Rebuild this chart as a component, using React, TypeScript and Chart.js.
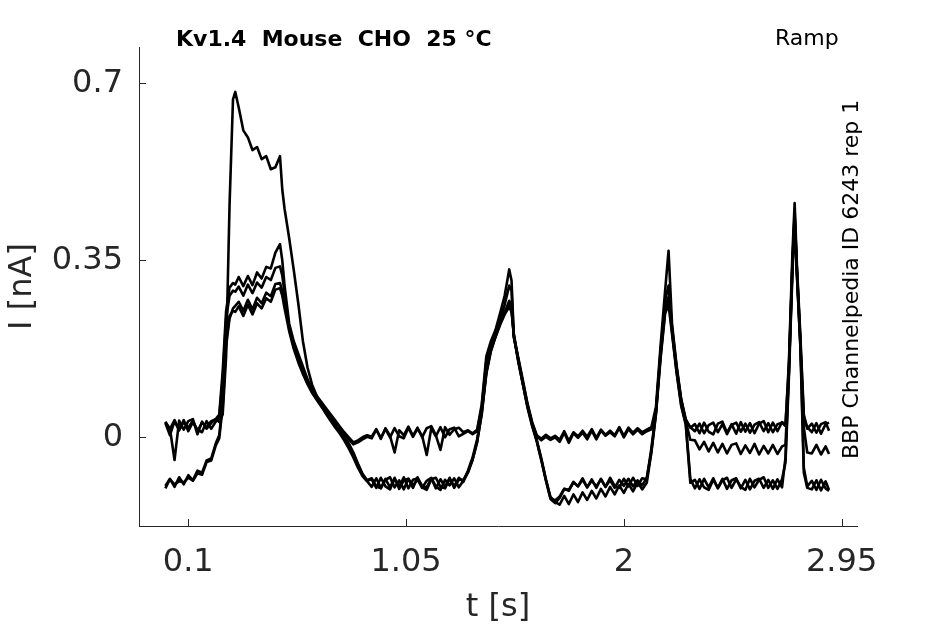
import { useEffect, useRef } from 'react';
import { Chart, registerables } from 'chart.js';

Chart.register(...registerables);

// sample times [s], shared by every sweep
const TIME = [
   0, 0.02, 0.04, 0.06, 0.08, 0.1, 0.12, 0.14, 0.16, 0.18, 0.2, 0.22,
   0.235, 0.25, 0.265, 0.28, 0.295, 0.305,
   0.32, 0.34, 0.36, 0.38, 0.4, 0.42, 0.44, 0.46, 0.48, 0.5, 0.51,
   0.52, 0.54, 0.56, 0.58, 0.6, 0.62, 0.64, 0.66, 0.68, 0.7, 0.72, 0.74, 0.76, 0.78, 0.8, 0.82, 0.84, 0.86, 0.88,
   0.9, 0.92, 0.94, 0.96, 0.98, 1, 1.02, 1.04, 1.06, 1.08, 1.1, 1.12, 1.14, 1.16, 1.18, 1.2, 1.22, 1.24, 1.26, 1.28,
   1.3, 1.32, 1.34, 1.36, 1.38, 1.4, 1.42, 1.44, 1.46, 1.48, 1.5, 1.51,
   1.52, 1.54, 1.56, 1.58, 1.6, 1.62, 1.64, 1.66, 1.68, 1.7,
   1.72, 1.74, 1.76, 1.78, 1.8, 1.82, 1.84, 1.86, 1.88, 1.9, 1.92, 1.94, 1.96, 1.98, 2, 2.02, 2.04, 2.06, 2.08,
   2.1, 2.12, 2.14, 2.16, 2.18, 2.195, 2.21, 2.23, 2.25, 2.27, 2.29,
   2.31, 2.33, 2.35, 2.37, 2.39, 2.41, 2.43, 2.45, 2.47, 2.49, 2.51, 2.53, 2.55, 2.57, 2.59, 2.61, 2.63, 2.65, 2.67, 2.69,
   2.705, 2.72, 2.735, 2.745, 2.755, 2.77, 2.785, 2.8,
   2.82, 2.84, 2.86, 2.88, 2.895,
];

// current [nA], one array per sweep
const SWEEP_1 = [
   0.031, 0.016, 0.034, 0.014, 0.03, 0.019, 0.033, 0.012, 0.029, 0.02, 0.032, 0.036,
   0.03, 0.045, 0.16, 0.46, 0.668, 0.683,
   0.652, 0.607, 0.593, 0.568, 0.574, 0.55, 0.556, 0.53, 0.534, 0.556, 0.49,
   0.452, 0.394, 0.331, 0.264, 0.19, 0.138, 0.104, 0.082, 0.064, 0.047, 0.033, 0.02, 0.008, -0.006, -0.022, -0.04, -0.06, -0.077, -0.087,
   -0.098, -0.081, -0.1, -0.084, -0.079, -0.099, -0.085, -0.103, -0.082, -0.096, -0.083, -0.1, -0.086, -0.08, -0.097, -0.104, -0.084, -0.095, -0.081, -0.099,
   -0.086, -0.07, -0.045, -0.008, 0.045, 0.125, 0.17, 0.198, 0.222, 0.243, 0.258, 0.248,
   0.205, 0.152, 0.106, 0.062, 0.026, -0.006, -0.042, -0.083, -0.12, -0.125,
   -0.117, -0.102, -0.104, -0.088, -0.097, -0.084, -0.099, -0.086, -0.097, -0.083, -0.098, -0.085, -0.1, -0.084, -0.096, -0.082, -0.097, -0.085, -0.095,
   -0.08, -0.028, 0.048, 0.16, 0.25, 0.278, 0.214, 0.136, 0.072, 0.033, 0.02,
   0.012, 0.027, 0.008, 0.024, 0.029, 0.01, 0.026, 0.006, 0.024, 0.029, 0.011, 0.027, 0.009, 0.025, 0.03, 0.012, 0.028, 0.01, 0.026, 0.029,
   0.022, 0.15, 0.36, 0.463, 0.34, 0.2, 0.045, 0.017,
   0.027, 0.009, 0.026, 0.03, 0.013,
];

const SWEEP_2 = [
   0.029, 0.017, -0.045, 0.033, 0.015, 0.032, 0.036, 0.006, 0.031, 0.017, 0.028, 0.036,
   0.045, 0.13, 0.25, 0.296, 0.305, 0.302,
   0.317, 0.299, 0.319, 0.301, 0.326, 0.314, 0.337, 0.334, 0.365, 0.382, 0.35,
   0.3, 0.225, 0.19, 0.165, 0.14, 0.115, 0.097, 0.082, 0.07, 0.058, 0.046, 0.034, 0.022, 0.01, 0, -0.01, -0.006, 0, 0.004,
   0.001, 0.016, -0.003, 0.018, 0.003, -0.03, 0.014, 0.004, 0.021, 0.003, 0.019, 0, 0.018, 0.022, 0.004, -0.025, 0.02, 0.005, 0.016, 0.019,
   0.01, 0.014, 0.008, 0.015, 0.065, 0.16, 0.19, 0.212, 0.245, 0.28, 0.332, 0.31,
   0.2, 0.156, 0.112, 0.066, 0.03, 0.004, -0.003, 0.005, -0.002, 0.003,
   -0.005, 0.012, -0.007, 0.01, 0.002, 0.013, 0.001, 0.016, -0.001, 0.015, 0.005, 0.013, 0.004, 0.02, 0.003, 0.019, 0.009, 0.018, 0.01,
   0.015, 0.02, 0.06, 0.18, 0.29, 0.369, 0.225, 0.142, 0.076, 0.036, 0.019,
   0.026, 0.008, 0.029, 0.011, 0.006, 0.027, 0.031, 0.009, 0.026, 0.007, 0.03, 0.011, 0.028, 0.008, 0.027, 0.032, 0.01, 0.029, 0.012, 0.03,
   0.025, 0.14, 0.34, 0.44, 0.33, 0.19, 0.04, 0.02,
   0.01, 0.028, 0.007, 0.026, 0.029,
];

const SWEEP_3 = [
   0.028, 0.004, 0.032, 0.014, 0.034, 0.012, 0.03, 0.015, 0.01, 0.032, 0.017, 0.031,
   0.04, 0.115, 0.235, 0.28, 0.29, 0.288,
   0.298, 0.28, 0.302, 0.285, 0.306, 0.296, 0.317, 0.311, 0.335, 0.338, 0.32,
   0.285, 0.215, 0.18, 0.155, 0.13, 0.11, 0.093, 0.078, 0.066, 0.053, 0.041, 0.03, 0.018, 0.007, -0.004, -0.014, -0.01, -0.004, 0.001,
   -0.002, 0.015, -0.001, 0.016, 0, 0.018, 0.002, -0.002, 0.019, 0.001, 0.017, 0.003, -0.035, 0.018, 0.002, 0.02, 0, 0.016, 0.019, 0.002,
   0.007, 0.012, 0.006, 0.012, 0.06, 0.15, 0.185, 0.205, 0.232, 0.262, 0.3, 0.29,
   0.198, 0.154, 0.108, 0.064, 0.028, 0.002, -0.006, 0.001, -0.005, 0,
   -0.009, 0.009, -0.011, 0.008, -0.001, 0.009, -0.004, 0.013, -0.004, 0.013, 0.003, 0.01, 0.002, 0.018, 0, 0.016, 0.006, 0.015, 0.006,
   0.012, 0.016, 0.05, 0.17, 0.27, 0.3, 0.218, 0.138, 0.074, 0.032, -0.005,
   -0.006, -0.024, -0.009, -0.028, -0.011, -0.03, -0.013, -0.032, -0.015, -0.012, -0.033, -0.016, -0.031, -0.013, -0.034, -0.017, -0.032, -0.015, -0.033, -0.018,
   -0.015, 0.13, 0.33, 0.43, 0.32, 0.18, 0.02, -0.03,
   -0.032, -0.015, -0.034, -0.018, -0.033,
];

const SWEEP_4 = [
   -0.096, -0.082, -0.098, -0.079, -0.093, -0.075, -0.085, -0.066, -0.07, -0.046, -0.042, -0.012,
   0.004, 0.07, 0.19, 0.24, 0.25, 0.248,
   0.259, 0.24, 0.262, 0.243, 0.265, 0.255, 0.275, 0.268, 0.292, 0.295, 0.28,
   0.255, 0.21, 0.175, 0.148, 0.125, 0.105, 0.088, 0.074, 0.061, 0.048, 0.036, 0.024, 0.012, 0, -0.014, -0.032, -0.055, -0.074, -0.086,
   -0.083, -0.1, -0.08, -0.097, -0.103, -0.082, -0.098, -0.079, -0.101, -0.084, -0.081, -0.099, -0.104, -0.083, -0.08, -0.098, -0.101, -0.082, -0.097, -0.08,
   -0.088, -0.066, -0.04, -0.004, 0.052, 0.13, 0.175, 0.2, 0.228, 0.248, 0.265, 0.255,
   0.202, 0.148, 0.104, 0.058, 0.022, -0.008, -0.046, -0.086, -0.122, -0.13,
   -0.12, -0.102, -0.106, -0.089, -0.097, -0.081, -0.099, -0.083, -0.1, -0.082, -0.098, -0.08, -0.096, -0.1, -0.082, -0.097, -0.08, -0.096, -0.081,
   -0.083, -0.022, 0.052, 0.165, 0.26, 0.275, 0.21, 0.13, 0.065, 0.028, -0.082,
   -0.101, -0.083, -0.099, -0.104, -0.084, -0.1, -0.082, -0.102, -0.085, -0.081, -0.101, -0.084, -0.103, -0.086, -0.082, -0.1, -0.084, -0.102, -0.083, -0.099,
   -0.04, 0.13, 0.34, 0.445, 0.33, 0.19, -0.06, -0.097,
   -0.086, -0.104, -0.084, -0.101, -0.106,
];

const SWEEP_5 = [
   -0.101, -0.083, -0.093, -0.087, -0.089, -0.08, -0.086, -0.071, -0.074, -0.049, -0.046, -0.016,
   -0.002, 0.06, 0.18, 0.235, 0.255, 0.26,
   0.268, 0.25, 0.272, 0.253, 0.276, 0.265, 0.286, 0.279, 0.303, 0.305, 0.29,
   0.265, 0.218, 0.182, 0.152, 0.128, 0.108, 0.09, 0.076, 0.063, 0.05, 0.038, 0.026, 0.014, 0.002, -0.012, -0.03, -0.052, -0.072, -0.085,
   -0.081, -0.097, -0.101, -0.082, -0.099, -0.08, -0.102, -0.085, -0.082, -0.1, -0.079, -0.096, -0.099, -0.081, -0.101, -0.083, -0.098, -0.08, -0.1, -0.084,
   -0.084, -0.068, -0.044, -0.01, 0.048, 0.128, 0.172, 0.199, 0.225, 0.246, 0.27, 0.258,
   0.2, 0.15, 0.104, 0.06, 0.024, -0.006, -0.044, -0.084, -0.118, -0.128,
   -0.133, -0.116, -0.132, -0.113, -0.128, -0.109, -0.124, -0.106, -0.121, -0.102, -0.117, -0.098, -0.113, -0.095, -0.11, -0.092, -0.107, -0.089, -0.103,
   -0.09, -0.03, 0.045, 0.155, 0.245, 0.262, 0.205, 0.128, 0.062, 0.025, -0.09,
   -0.084, -0.102, -0.082, -0.099, -0.081, -0.101, -0.085, -0.08, -0.1, -0.083, -0.098, -0.104, -0.082, -0.099, -0.084, -0.079, -0.1, -0.085, -0.102, -0.083,
   -0.05, 0.12, 0.32, 0.43, 0.32, 0.18, -0.07, -0.1,
   -0.103, -0.085, -0.105, -0.087, -0.104,
];

const SWEEPS = [SWEEP_1, SWEEP_2, SWEEP_3, SWEEP_4, SWEEP_5];

const X_TICKS = [0.1, 1.05, 2, 2.95];
const X_TICK_LABELS = ['0.1', '1.05', '2', '2.95'];
const Y_TICKS = [0, 0.35, 0.7];
const Y_TICK_LABELS = ['0', '0.35', '0.7'];

const AXIS_COLOR = '#262626';
const FONT = '"DejaVu Sans", sans-serif';

// MATLAB-style ticks pointing into the plot
const innerTicks = {
   id: 'innerTicks',
   afterDraw(chart: Chart) {
      const { ctx, chartArea, scales } = chart;
      ctx.save();
      ctx.strokeStyle = AXIS_COLOR;
      ctx.lineWidth = 1;
      ctx.beginPath();
      X_TICKS.forEach((v) => {
         const x = Math.round(scales.x.getPixelForValue(v)) + 0.5;
         ctx.moveTo(x, chartArea.bottom);
         ctx.lineTo(x, chartArea.bottom - 7);
      });
      Y_TICKS.forEach((v) => {
         const y = Math.round(scales.y.getPixelForValue(v)) + 0.5;
         ctx.moveTo(chartArea.left, y);
         ctx.lineTo(chartArea.left + 7, y);
      });
      ctx.stroke();
      ctx.restore();
   },
};

export default function App() {
   const canvasRef = useRef<HTMLCanvasElement>(null);
   const chartRef = useRef<Chart | null>(null);

   useEffect(() => {
      if (!canvasRef.current) return;
      if (chartRef.current) chartRef.current.destroy();

      chartRef.current = new Chart(canvasRef.current, {
         type: 'line',
         data: {
            datasets: SWEEPS.map((sweep, i) => ({
               label: `sweep ${i + 1}`,
               data: TIME.map((t, j) => ({ x: t, y: sweep[j] })),
               borderColor: '#000000',
               borderWidth: 2.6,
               borderJoinStyle: 'round' as const,
               pointRadius: 0,
               tension: 0,
            })),
         },
         options: {
            responsive: false,
            animation: false,
            devicePixelRatio: 1,
            layout: { padding: { top: 47, right: 88, left: 0, bottom: 0 } },
            plugins: {
               legend: { display: false },
               tooltip: { enabled: false },
            },
            scales: {
               x: {
                  type: 'linear',
                  min: -0.115,
                  max: 3.017,
                  grid: { display: false },
                  border: { display: true, color: AXIS_COLOR, width: 1 },
                  afterBuildTicks: (scale) => {
                     scale.ticks = X_TICKS.map((value) => ({ value }));
                  },
                  afterFit: (scale) => {
                     scale.height = 98;
                  },
                  ticks: {
                     autoSkip: false,
                     maxRotation: 0,
                     padding: 9,
                     color: AXIS_COLOR,
                     font: { family: FONT, size: 32 },
                     callback: (_v, i) => X_TICK_LABELS[i],
                  },
                  title: {
                     display: true,
                     text: 't [s]',
                     color: AXIS_COLOR,
                     font: { family: FONT, size: 32 },
                     padding: { top: 0, bottom: -3 },
                  },
               },
               y: {
                  type: 'linear',
                  min: -0.1754,
                  max: 0.7718,
                  grid: { display: false },
                  border: { display: true, color: AXIS_COLOR, width: 1 },
                  afterBuildTicks: (scale) => {
                     scale.ticks = Y_TICKS.map((value) => ({ value }));
                  },
                  afterFit: (scale) => {
                     scale.width = 139;
                  },
                  ticks: {
                     autoSkip: false,
                     padding: 8,
                     color: AXIS_COLOR,
                     font: { family: FONT, size: 32 },
                     callback: (_v, i) => Y_TICK_LABELS[i],
                  },
                  title: {
                     display: true,
                     text: 'I [nA]',
                     color: AXIS_COLOR,
                     font: { family: FONT, size: 32 },
                     padding: { top: 3, bottom: 0 },
                  },
               },
            },
         },
         plugins: [innerTicks],
      });

      return () => {
         if (chartRef.current) {
            chartRef.current.destroy();
            chartRef.current = null;
         }
      };
   }, []);

   const note = {
      position: 'absolute' as const,
      fontFamily: FONT,
      fontSize: 22,
      lineHeight: '22px',
      color: '#000',
      whiteSpace: 'pre' as const,
   };

   return (
      <div style={{ position: 'fixed', left: 0, top: 0, width: 945, height: 624, background: '#fff' }}>
         <canvas ref={canvasRef} width={945} height={624} />
         <div style={{ ...note, left: 176, top: 28, fontWeight: 'bold' }}>Kv1.4  Mouse  CHO  25 °C</div>
         <div style={{ ...note, left: 775, top: 27 }}>Ramp</div>
         <div style={{ ...note, left: 840, top: 459, transform: 'rotate(-90deg)', transformOrigin: '0 0' }}>
            BBP Channelpedia ID 6243 rep 1
         </div>
      </div>
   );
}
